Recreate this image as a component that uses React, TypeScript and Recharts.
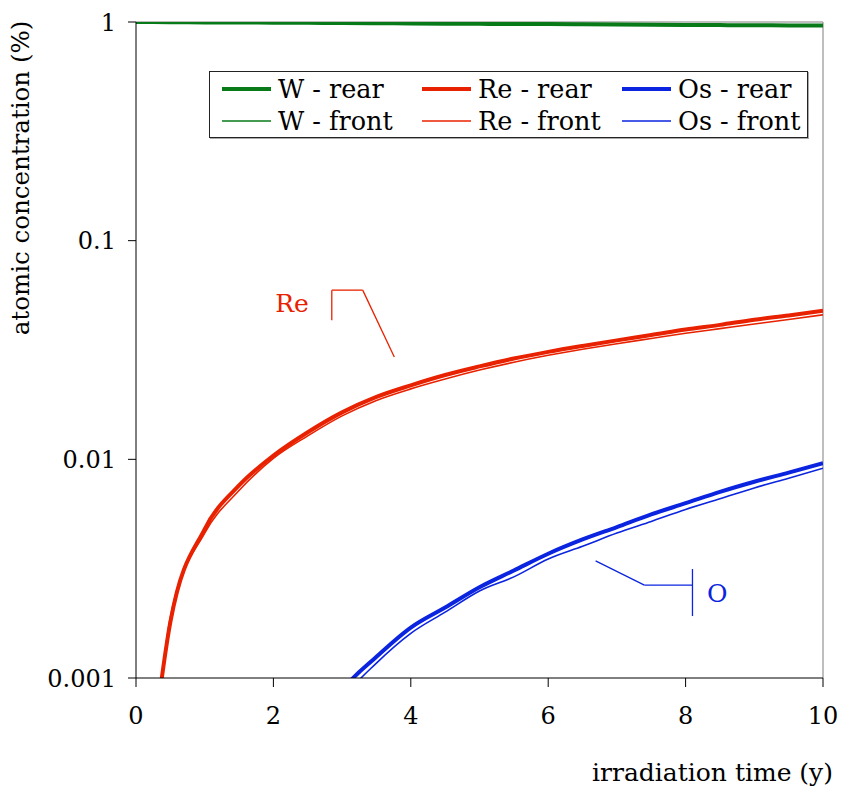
import {
  LineChart,
  Line,
  XAxis,
  YAxis,
  Label,
  ReferenceLine,
  ReferenceDot,
} from 'recharts';

// irradiation time (y)
const TIMES = [0, 0.25, 0.5, 1, 1.5, 2, 2.5, 3, 3.5, 4, 4.5, 5, 5.5, 6, 6.5, 7, 7.5, 8, 8.5, 9, 9.5, 10];

// atomic concentration (%)
const W_REAR = [1.0, 0.999, 0.998, 0.996, 0.994, 0.993, 0.991, 0.989, 0.987, 0.985, 0.983, 0.981, 0.979, 0.978, 0.976, 0.974, 0.972, 0.97, 0.968, 0.966, 0.965, 0.963];
const W_FRONT = [1.0, 0.999, 0.998, 0.996, 0.995, 0.993, 0.992, 0.99, 0.988, 0.986, 0.984, 0.983, 0.981, 0.979, 0.977, 0.976, 0.974, 0.972, 0.97, 0.969, 0.967, 0.965];
const RE_REAR = [null, 0.0005, 0.0018, 0.0048, 0.0076, 0.0104, 0.0133, 0.0164, 0.0193, 0.0218, 0.0243, 0.0266, 0.0289, 0.031, 0.033, 0.035, 0.037, 0.0392, 0.0412, 0.0435, 0.0455, 0.0478];
const RE_FRONT = [null, 0.0004, 0.0019, 0.0046, 0.0072, 0.0101, 0.0128, 0.0158, 0.0186, 0.021, 0.0233, 0.0256, 0.0278, 0.0299, 0.0319, 0.0338, 0.0357, 0.0377, 0.0396, 0.0416, 0.0436, 0.0458];
const OS_REAR = [null, null, null, null, null, null, 0.0005, 0.00088, 0.00125, 0.0017, 0.0021, 0.0026, 0.0031, 0.0037, 0.0043, 0.0049, 0.0056, 0.0063, 0.0071, 0.0079, 0.0087, 0.0096];
const OS_FRONT = [null, null, null, null, null, null, 0.00045, 0.0008, 0.00117, 0.0016, 0.002, 0.0025, 0.0029, 0.0035, 0.004, 0.0046, 0.0052, 0.0059, 0.0066, 0.0074, 0.0082, 0.0091];

const X_TICKS = [0, 2, 4, 6, 8, 10];
const Y_TICKS = [0.001, 0.01, 0.1, 1];

const GREEN = '#087a18';
const RED = '#e82200';
const BLUE = '#0a24e0';
const FONT = '"DejaVu Serif", "Liberation Serif", serif';

const data = TIMES.map((t, i) => ({
  t,
  wRear: W_REAR[i],
  wFront: W_FRONT[i],
  reRear: RE_REAR[i],
  reFront: RE_FRONT[i],
  osRear: OS_REAR[i],
  osFront: OS_FRONT[i],
}));

const SERIES = [
  { key: 'wRear', name: 'W - rear', color: GREEN, width: 4 },
  { key: 'reRear', name: 'Re - rear', color: RED, width: 4 },
  { key: 'osRear', name: 'Os - rear', color: BLUE, width: 4 },
  { key: 'wFront', name: 'W - front', color: GREEN, width: 1.6 },
  { key: 'reFront', name: 'Re - front', color: RED, width: 1.6 },
  { key: 'osFront', name: 'Os - front', color: BLUE, width: 1.6 },
];

function LegendBox() {
  return (
    <div
      style={{
        position: 'absolute',
        left: 209,
        top: 71,
        width: 599,
        height: 67,
        border: '1.5px solid #222',
        boxShadow: '1px 1px 0 #aaa',
        background: '#fff',
        display: 'grid',
        gridTemplateColumns: '200px 200px 1fr',
        padding: '1px 0 0 12px',
        boxSizing: 'border-box',
        fontFamily: FONT,
        fontSize: 25.5,
        color: '#000',
      }}
    >
      {SERIES.map((s) => (
        <div key={s.key} style={{ display: 'flex', alignItems: 'center', height: 32, whiteSpace: 'nowrap' }}>
          <svg width={56} height={10} style={{ flex: 'none' }}>
            <line x1={0} y1={5} x2={49} y2={5} stroke={s.color} strokeWidth={s.width > 2 ? 4 : 1.6} />
          </svg>
          <span>{s.name}</span>
        </div>
      ))}
    </div>
  );
}

export default function App() {
  return (
    <div style={{ position: 'absolute', left: 0, top: 0, width: 841, height: 787, background: '#fff' }}>
      <LineChart
        width={841}
        height={787}
        data={data}
        margin={{ top: 22, right: 18, left: 0, bottom: 0 }}
      >
        <XAxis
          dataKey="t"
          type="number"
          domain={[0, 10]}
          ticks={X_TICKS}
          allowDataOverflow
          height={109}
          stroke="#000"
          tickSize={9}
          tickMargin={20}
          tick={{ fill: '#000', fontFamily: FONT, fontSize: 24 }}
        >
          <Label
            value="irradiation time (y)"
            position="insideBottomRight"
            offset={0}
            dx={10}
            dy={-6}
            style={{ fill: '#000', fontFamily: FONT, fontSize: 25 }}
          />
        </XAxis>
        <YAxis
          scale="log"
          domain={[0.001, 1]}
          ticks={Y_TICKS}
          allowDataOverflow
          width={136}
          stroke="#000"
          tickSize={8}
          tickMargin={12}
          tickFormatter={(v: number) => String(v)}
          tick={{ fill: '#000', fontFamily: FONT, fontSize: 24 }}
        >
          <Label
            value="atomic concentration (%)"
            angle={-90}
            position="insideLeft"
            offset={0}
            dx={20}
            dy={-172}
            style={{ fill: '#000', fontFamily: FONT, fontSize: 24.5, textAnchor: 'middle' }}
          />
        </YAxis>

        <ReferenceLine y={1} stroke="#a8a8a8" strokeWidth={1.5} />
        <ReferenceLine x={10} stroke="#a8a8a8" strokeWidth={1.5} />

        {SERIES.map((s) => (
          <Line
            key={s.key}
            type="monotone"
            dataKey={s.key}
            name={s.name}
            stroke={s.color}
            strokeWidth={s.width}
            dot={false}
            isAnimationActive={false}
            connectNulls={false}
          />
        ))}

        {/* Re callout */}
        <ReferenceLine segment={[{ x: 2.85, y: 0.0594 }, { x: 2.85, y: 0.0433 }]} stroke={RED} strokeWidth={1.3} />
        <ReferenceLine segment={[{ x: 2.85, y: 0.0594 }, { x: 3.3, y: 0.0594 }]} stroke={RED} strokeWidth={1.3} />
        <ReferenceLine segment={[{ x: 3.3, y: 0.0594 }, { x: 3.76, y: 0.0294 }]} stroke={RED} strokeWidth={1.3} />
        <ReferenceDot
          x={2.27}
          y={0.052}
          r={0}
          stroke="none"
          label={{ value: 'Re', fill: RED, fontFamily: FONT, fontSize: 25, position: 'center' }}
        />

        {/* O callout */}
        <ReferenceLine segment={[{ x: 8.1, y: 0.00315 }, { x: 8.1, y: 0.00192 }]} stroke={BLUE} strokeWidth={1.3} />
        <ReferenceLine segment={[{ x: 7.4, y: 0.00266 }, { x: 8.1, y: 0.00266 }]} stroke={BLUE} strokeWidth={1.3} />
        <ReferenceLine segment={[{ x: 6.69, y: 0.00343 }, { x: 7.4, y: 0.00266 }]} stroke={BLUE} strokeWidth={1.3} />
        <ReferenceDot
          x={8.46}
          y={0.00245}
          r={0}
          stroke="none"
          label={{ value: 'O', fill: BLUE, fontFamily: FONT, fontSize: 25, position: 'center' }}
        />
      </LineChart>
      <LegendBox />
    </div>
  );
}
